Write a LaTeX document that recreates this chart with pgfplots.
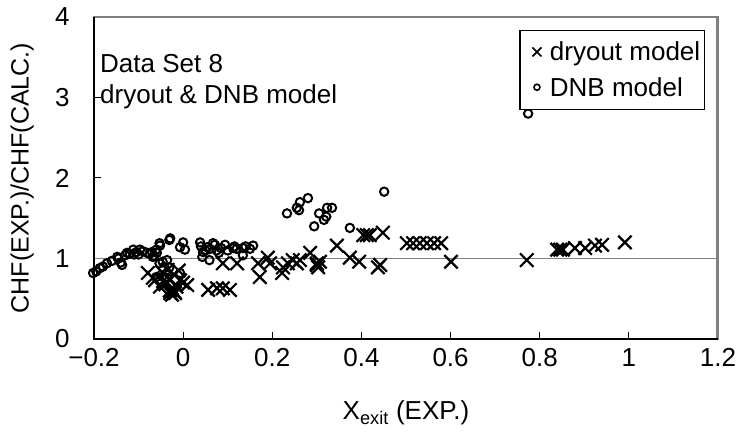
\documentclass[border=0pt]{standalone}
\usepackage{fontspec}
\setmainfont{Liberation Sans}
\usepackage{pgfplots}
\pgfplotsset{compat=1.18}
\definecolor{bordergray}{HTML}{808080}
\newcommand{\bigf}{\fontsize{26}{30}\selectfont}
\begin{document}
\begin{tikzpicture}
\useasboundingbox (0,0) rectangle (740pt,439pt);
\begin{axis}[
  name=ax,
  scale only axis, width=624pt, height=322pt,
  at={(94pt,100pt)}, anchor=south west,
  xmin=-0.2, xmax=1.2, ymin=0, ymax=4,
  axis line style={bordergray, line width=2pt},
  xtick pos=left, ytick pos=left,
  xtick={-0.2,0,0.2,0.4,0.6,0.8,1,1.2},
  xticklabels={−0.2,0,0.2,0.4,0.6,0.8,1,1.2},
  ytick={0,1,2,3,4},
  yticklabels={0,1,2,3,4},
  tick align=inside, major tick length=7pt,
  tick style={black, line width=1pt},
  ticklabel style={font=\bigf},
  yticklabel style={xshift=-21pt},
  xticklabel style={yshift=-6pt},
  xlabel={X\textsubscript{exit} (EXP.)},
  ylabel={CHF(EXP.)/CHF(CALC.)},
  xlabel style={font=\bigf, at={(axis description cs:0.5,-0.23)}, anchor=center},
  ylabel style={font=\fontsize{25}{30}\selectfont, at={(axis description cs:-0.115,0.5)}, anchor=center},
  clip=false,
  legend style={at={(1,1)}, anchor=north east, xshift=-13pt, yshift=-13pt,
    draw=black, line width=1.5pt, fill=white, font=\bigf, row sep=12pt, inner xsep=2pt, inner ysep=9pt,
    cells={anchor=west}},
  legend cell align=left,
]
\addplot[bordergray, line width=1.2pt, forget plot] coordinates {(-0.2,1) (1.2,1)};
\addplot[bordergray, line width=2pt, forget plot] coordinates {(-0.2,3.995) (1.198,3.995) (1.198,0)};
\addplot[black, line width=1.5pt, forget plot] coordinates {(-0.2,4) (-0.2,0) (1.2,0)};

\addplot[only marks, mark=x, mark size=9.5pt, line width=2.2pt, black,
  legend image code/.code={\path[draw=none] (0pt,0pt) -- (26pt,0pt);
    \draw[black, line width=1.6pt] (10.5pt,-4.5pt) -- (19.5pt,4.5pt) (10.5pt,4.5pt) -- (19.5pt,-4.5pt);}]
coordinates {
(-0.079,0.82) (-0.063,0.73) (-0.047,0.83) (-0.036,0.70) (-0.029,0.57) (-0.018,0.57)
(-0.025,0.63) (-0.007,0.73) (0.009,0.67) (-0.068,0.76) (-0.052,0.65) (0.000,0.70)
(-0.030,0.60) (-0.025,0.55) (-0.020,0.59) (-0.015,0.65) (-0.030,0.75) (-0.020,0.80)
(-0.010,0.85) (-0.035,0.86) (-0.045,0.72) (-0.040,0.68)
(0.056,0.61) (0.076,0.63) (0.089,0.63) (0.105,0.61)
(0.089,0.94) (0.121,0.94) (0.168,0.94) (0.172,0.77) (0.190,1.01) (0.195,0.94)
(0.222,0.82) (0.224,0.89) (0.235,0.94) (0.246,0.98) (0.255,0.94) (0.262,0.98)
(0.285,1.07) (0.300,0.94) (0.307,0.96) (0.303,0.89) (0.300,0.92)
(0.345,1.16) (0.374,1.01) (0.395,0.96)
(0.404,1.29) (0.412,1.29) (0.419,1.29) (0.448,1.32) (0.437,0.89) (0.442,0.92)
(0.502,1.19) (0.516,1.19) (0.531,1.19) (0.547,1.19) (0.563,1.19) (0.579,1.19)
(0.601,0.96) (0.771,0.98)
(0.839,1.11) (0.846,1.11) (0.852,1.11) (0.879,1.13) (0.902,1.13) (0.924,1.16) (0.940,1.17)
(0.991,1.20)
};
\addlegendentry{dryout model}

\addplot[only marks, mark=o, mark size=4.2pt, line width=2pt, black,
  legend image code/.code={\path[draw=none] (0pt,0pt) -- (26pt,0pt);
    \draw[black, line width=1.6pt] (15pt,1pt) circle (3pt);}]
coordinates {
(-0.202,0.82) (-0.195,0.84) (-0.187,0.88) (-0.180,0.90) (-0.171,0.94) (-0.160,0.97)
(-0.148,1.02) (-0.145,1.00) (-0.137,0.92) (-0.140,0.95) (-0.130,1.04) (-0.126,1.07)
(-0.120,1.06) (-0.112,1.11) (-0.110,1.05) (-0.105,1.08) (-0.100,1.05) (-0.097,1.11)
(-0.090,1.09) (-0.081,1.07) (-0.075,1.06) (-0.070,1.08) (-0.065,1.03) (-0.059,1.07)
(-0.068,1.02) (-0.060,1.11) (-0.052,1.16) (-0.053,1.19) (-0.031,1.23) (-0.029,1.25)
(-0.046,0.96) (-0.036,0.98) (-0.053,0.94) (-0.031,0.89) (-0.007,0.82) (-0.060,0.77)
(-0.036,0.76) (-0.007,1.14) (0.000,1.20) (0.004,1.11)
(0.038,1.20) (0.043,1.02) (0.059,0.98) (0.054,1.14) (0.067,1.19) (0.071,1.17)
(0.040,1.15) (0.050,1.10) (0.060,1.12) (0.075,1.10) (0.085,1.13) (0.094,1.17)
(0.100,1.10) (0.112,1.13) (0.115,1.15) (0.120,1.12) (0.134,1.13) (0.140,1.15)
(0.150,1.12) (0.157,1.16) (0.134,1.04) (0.080,1.07) (0.045,1.08)
(0.233,1.56) (0.255,1.63) (0.262,1.70) (0.260,1.60) (0.280,1.75) (0.294,1.40)
(0.305,1.56) (0.316,1.48) (0.321,1.52) (0.323,1.63) (0.334,1.63)
(0.374,1.38) (0.451,1.83) (0.774,2.80)
};
\addlegendentry{DNB model}
\end{axis}
\node[anchor=base west, inner sep=0pt, font=\bigf] at (100pt,366pt) {Data Set 8};
\node[anchor=base west, inner sep=0pt, font=\bigf] at (100pt,335pt) {dryout \& DNB model};
\end{tikzpicture}
\end{document}
